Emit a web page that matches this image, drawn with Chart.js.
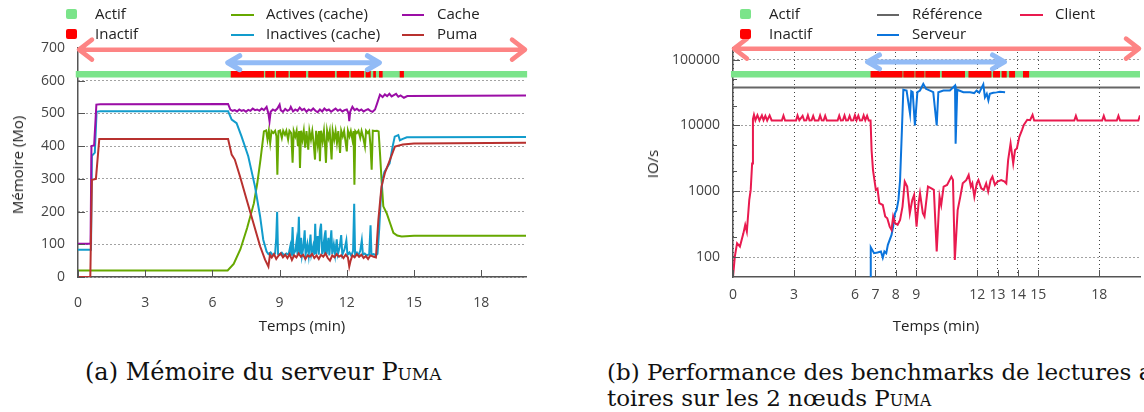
<!DOCTYPE html>
<html>
<head>
<meta charset="utf-8">
<script src="https://cdn.jsdelivr.net/npm/chart.js@4"></script>
<style>
body{margin:0;background:#fff;}
#fig{position:relative;width:1144px;height:412px;overflow:hidden;background:#fff;font-family:"Open Sans",sans-serif;}
canvas{position:absolute;top:0;}
.lg{position:absolute;font-size:15px;line-height:20px;color:#222;white-space:nowrap;}
.sq{position:absolute;width:10.5px;height:10px;border-radius:2px;}
.ln{position:absolute;height:2px;}
.ttl{position:absolute;font-size:15px;line-height:20px;color:#222;white-space:nowrap;transform:translate(-50%,-50%);}
.rot{transform:translate(-50%,-50%) rotate(-90deg);}
.cap{position:absolute;font-family:"DejaVu Serif",serif;font-size:23px;line-height:26px;color:#111;white-space:nowrap;}
.sc{font-variant:small-caps;}
</style>
</head>
<body>
<div id="fig">
  <canvas id="mem" width="560" height="340" style="left:0"></canvas>
  <canvas id="io" width="572" height="340" style="left:572px"></canvas>

  <!-- légende (a) -->
  <div class="sq" style="left:66px;top:9.3px;background:#7be48a"></div>
  <div class="lg" style="left:95px;top:3.4px">Actif</div>
  <div class="sq" style="left:66px;top:28.7px;background:#ff0000"></div>
  <div class="lg" style="left:95px;top:23.4px">Inactif</div>
  <div class="ln" style="left:231px;top:13.5px;width:23px;background:#66a800"></div>
  <div class="lg" style="left:266px;top:3.4px">Actives (cache)</div>
  <div class="ln" style="left:231px;top:33.6px;width:23px;background:#129ccc"></div>
  <div class="lg" style="left:266px;top:23.4px">Inactives (cache)</div>
  <div class="ln" style="left:402px;top:13.5px;width:22px;background:#9b0ea6"></div>
  <div class="lg" style="left:437px;top:3.4px">Cache</div>
  <div class="ln" style="left:402px;top:33.6px;width:22px;background:#b8312f"></div>
  <div class="lg" style="left:437px;top:23.4px">Puma</div>

  <!-- légende (b) -->
  <div class="sq" style="left:740px;top:9.3px;background:#7be48a"></div>
  <div class="lg" style="left:769px;top:3.4px">Actif</div>
  <div class="sq" style="left:740px;top:28.7px;background:#ff0000"></div>
  <div class="lg" style="left:769px;top:23.4px">Inactif</div>
  <div class="ln" style="left:877px;top:13.5px;width:22px;background:#666666"></div>
  <div class="lg" style="left:912px;top:3.4px">Référence</div>
  <div class="ln" style="left:877px;top:33.6px;width:22px;background:#0b74dc"></div>
  <div class="lg" style="left:912px;top:23.4px">Serveur</div>
  <div class="ln" style="left:1020px;top:13.5px;width:23px;background:#e91a4f"></div>
  <div class="lg" style="left:1055px;top:3.4px">Client</div>

  <!-- titres d'axes -->
  <div class="ttl rot" style="left:16.5px;top:165px">Mémoire (Mo)</div>
  <div class="ttl" style="left:302px;top:325px">Temps (min)</div>
  <div class="ttl rot" style="left:652px;top:164px">IO/s</div>
  <div class="ttl" style="left:936px;top:325px">Temps (min)</div>

  <!-- sous-titres -->
  <div class="cap" style="left:85px;top:359px;font-size:24px">(a) Mémoire du serveur <span class="sc">Puma</span></div>
  <div class="cap" style="left:607px;top:359px">(b) Performance des benchmarks de lectures aléa-<br>toires sur les 2 nœuds <span class="sc">Puma</span></div>
</div>

<script>
// ---- (a) mémoire du serveur Puma, en Mo, temps en minutes ----
const memTicksX = [0, 3, 6, 9, 12, 15, 18];

const memActives = [[0,20],[6.68,20],[6.95,40],[7.25,85],[7.55,150],[7.85,225],[8.0,285],[8.15,360],[8.3,445],
  [8.4,448],[8.46,420],[8.52,447],[8.58,410],[8.64,446],[8.72,440],[8.8,447],[8.86,430],[8.9,313],[8.95,446],
  [9.02,448],[9.1,425],[9.16,447],[9.24,435],[9.3,447],[9.38,420],[9.44,447],[9.52,440],[9.58,349],[9.63,446],
  [9.7,430],[9.76,447],[9.82,400],[9.87,446],[9.91,333],[9.96,447],[10.02,420],[10.08,447],[10.14,395],[10.2,446],
  [10.28,389],[10.33,447],[10.4,420],[10.46,446],[10.52,410],[10.58,359],[10.63,447],[10.7,405],[10.76,446],
  [10.8,354],[10.85,447],[10.92,415],[10.98,446],[11.03,400],[11.07,349],[11.12,447],[11.18,425],[11.24,446],
  [11.32,359],[11.37,447],[11.44,420],[11.5,446],[11.56,410],[11.62,446],[11.7,379],[11.75,447],[11.82,430],
  [11.88,446],[11.94,415],[12.0,384],[12.05,447],[12.12,430],[12.18,446],[12.25,420],[12.3,446],[12.34,282],
  [12.38,446],[12.45,440],[12.52,447],[12.6,425],[12.66,446],[12.72,430],[12.81,399],[12.86,447],[12.94,440],
  [13.0,446],[13.06,400],[13.11,328],[13.16,447],[13.25,446],[13.35,447],[13.42,445],[13.48,380],[13.55,298],
  [13.63,216],[13.78,195],[13.93,165],[14.08,135],[14.25,127],[14.45,124],[15,126],[20,126]];

const memInactives = [[0,83],[0.58,83],[0.62,370],[0.75,380],[0.83,505],[1.0,507],[6.7,507],[6.86,481],[7.08,470],
  [7.3,430],[7.6,369],[7.9,277],[8.13,185],[8.27,114],[8.42,78],[8.5,70],[8.6,75],[8.7,66],[8.8,72],[8.85,120],
  [8.89,199],[8.93,70],[9.0,68],[9.1,74],[9.2,66],[9.3,72],[9.4,68],[9.48,95],[9.53,65],[9.58,153],[9.62,70],
  [9.7,80],[9.76,110],[9.8,68],[9.86,184],[9.9,70],[9.96,120],[10.0,66],[10.06,90],[10.12,143],[10.16,68],
  [10.24,100],[10.3,66],[10.38,130],[10.42,70],[10.5,95],[10.55,68],[10.59,163],[10.63,70],[10.7,125],[10.75,68],
  [10.8,140],[10.85,163],[10.9,70],[10.98,110],[11.02,68],[11.05,143],[11.1,70],[11.18,120],[11.22,66],[11.31,143],
  [11.35,70],[11.42,100],[11.48,68],[11.55,115],[11.6,70],[11.68,90],[11.75,128],[11.8,68],[11.9,85],[11.98,112],
  [12.03,68],[12.12,75],[12.2,65],[12.28,80],[12.33,224],[12.37,68],[12.45,75],[12.52,66],[12.6,80],[12.67,112],
  [12.72,68],[12.8,72],[12.9,66],[13.0,70],[13.06,158],[13.1,68],[13.2,70],[13.3,66],[13.37,71],[13.45,150],
  [13.52,245],[13.6,300],[13.68,321],[13.8,335],[13.91,347],[14.05,400],[14.14,429],[14.3,434],[14.37,418],
  [14.5,422],[14.68,427],[20,428]];

const memCache = [[0,102],[0.56,102],[0.6,400],[0.72,402],[0.82,527],[1.0,528],[6.7,529],[6.8,512],[6.9,508],
  [7.0,510],[7.1,506],[7.2,512],[7.3,508],[7.4,510],[7.5,505],[7.6,511],[7.7,508],[7.8,515],[7.9,510],[8.0,512],
  [8.1,508],[8.2,515],[8.3,510],[8.42,520],[8.5,500],[8.55,476],[8.6,505],[8.7,512],[8.8,508],[8.9,515],[9.0,527],
  [9.05,510],[9.15,505],[9.25,514],[9.35,508],[9.45,512],[9.5,520],[9.6,506],[9.7,512],[9.8,508],[9.9,518],
  [10.0,510],[10.1,514],[10.2,505],[10.3,512],[10.4,508],[10.5,515],[10.6,508],[10.7,504],[10.8,512],[10.9,506],
  [11.0,515],[11.1,509],[11.2,512],[11.3,505],[11.4,510],[11.5,515],[11.6,508],[11.7,512],[11.8,506],[11.9,510],
  [12.0,512],[12.08,500],[12.11,476],[12.15,505],[12.25,520],[12.35,510],[12.45,514],[12.55,508],[12.65,512],
  [12.75,506],[12.85,510],[12.95,513],[13.05,508],[13.15,505],[13.26,512],[13.35,530],[13.48,557],[13.6,550],
  [13.7,558],[13.8,553],[13.9,560],[14.0,552],[14.1,556],[14.2,560],[14.3,551],[14.4,555],[14.55,548],[14.7,553],
  [20,555]];

const memPuma = [[0,0],[0.55,0],[0.62,297],[0.8,300],[0.95,422],[6.7,422],[6.86,374],[7.0,359],[7.23,308],
  [7.53,236],[7.83,165],[8.13,94],[8.35,53],[8.5,32],[8.57,68],[8.65,60],[8.75,70],[8.85,55],[8.95,65],[9.05,72],
  [9.15,60],[9.25,68],[9.35,58],[9.45,70],[9.55,52],[9.65,66],[9.75,60],[9.85,72],[9.95,62],[10.05,68],[10.15,55],
  [10.25,66],[10.35,62],[10.45,70],[10.55,58],[10.65,66],[10.75,55],[10.85,68],[10.95,62],[11.05,72],[11.15,58],
  [11.25,50],[11.35,66],[11.45,60],[11.55,70],[11.65,62],[11.75,66],[11.85,58],[11.95,68],[12.05,60],[12.11,32],
  [12.17,50],[12.25,66],[12.35,60],[12.45,70],[12.55,62],[12.65,68],[12.75,58],[12.85,64],[12.95,55],[13.05,66],
  [13.2,62],[13.3,60],[13.41,175],[13.55,277],[13.7,318],[13.93,359],[14.15,399],[14.5,405],[15,408],[20,410]];

// états du nœud (niveau en Mo) et flèches de période
const memStateLevel = 620;
const memActif = [[-0.1, 20.05]];
const memInactif = [[6.82,8.3],[8.36,8.78],[8.84,9.4],[9.46,10.18],[10.28,11.47],[11.55,12.11],[12.17,12.77],
  [12.84,13.07],[13.18,13.3],[13.44,13.6],[14.36,14.55]];
const memArrowRun = [0, 20, 695];
const memArrowFault = [6.64, 13.5, 655];

// ---- (b) IO/s, échelle log ----
const ioTicksX = [0, 3, 6, 7, 8, 9, 12, 13, 14, 15, 18];
const ioTicksY = [100, 1000, 10000, 100000];
const ioMinorY = [200, 500, 2000, 5000, 20000, 50000];

const ioReference = [[0,37800],[20,37800]];

const ioServeur = [[6.75,50],[6.77,141],[6.93,115],[7.1,118],[7.27,122],[7.36,98],[7.44,122],[7.53,115],
  [7.61,154],[7.7,183],[7.79,218],[7.87,291],[7.96,464],[8.04,520],[8.13,740],[8.21,1480],[8.3,8500],[8.37,34800],
  [8.53,33900],[8.7,15000],[8.76,33000],[8.83,32000],[8.94,10000],[9.06,32000],[9.19,33900],[9.35,42800],
  [9.48,36000],[9.68,33900],[9.84,32000],[10.01,10000],[10.09,32000],[10.34,33900],[10.66,33900],[10.91,40300],
  [10.94,5300],[11.02,34800],[11.32,32000],[11.65,32000],[11.85,31000],[11.97,33900],[12.1,31500],[12.3,42000],
  [12.38,26800],[12.47,30200],[12.55,24000],[12.62,30200],[12.79,31300],[12.95,31800],[13.12,32500],[13.37,32000]];

const ioClient = [[0,50],[0.09,102],[0.2,163],[0.34,145],[0.51,230],[0.6,309],[0.68,245],[0.8,740],[0.87,1050],
  [0.94,2650],[0.98,12500],[1.03,14500],[1.1,12000],[1.2,14300],[1.3,11900],[1.42,14200],[1.5,12000],[1.59,14000],
  [1.68,11900],[1.8,14200],[1.9,11900],[2.4,11900],[2.48,14100],[2.56,11900],[3.1,11900],[3.17,14200],[3.26,12000],
  [3.42,14000],[3.5,11900],[3.6,12000],[3.68,14300],[3.76,11900],[3.86,12000],[3.94,14000],[4.02,11900],
  [4.2,11900],[4.28,14200],[4.36,12000],[4.45,11900],[4.53,14000],[4.61,11900],[5.14,11900],[5.22,14100],
  [5.3,11900],[5.4,12000],[5.48,14200],[5.56,11900],[5.65,12000],[5.73,14000],[5.81,11900],[5.91,12000],
  [5.99,14300],[6.07,12000],[6.16,14100],[6.24,11900],[6.34,12000],[6.42,14200],[6.5,12000],[6.59,14000],
  [6.67,11900],[6.76,11900],[6.81,4200],[6.88,2100],[7.02,1050],[7.1,1100],[7.19,660],[7.36,620],[7.48,414],
  [7.58,390],[7.7,291],[7.79,260],[7.87,414],[7.96,328],[8.09,310],[8.21,368],[8.33,586],[8.44,1400],[8.56,1180],
  [8.69,464],[8.81,740],[8.9,880],[9.02,291],[9.12,660],[9.19,933],[9.33,464],[9.41,414],[9.58,1180],[9.75,1110],
  [9.87,1050],[10.01,122],[10.15,830],[10.23,620],[10.35,1180],[10.52,1250],[10.73,1670],[10.81,1480],[10.9,91],
  [11.04,520],[11.17,830],[11.29,1320],[11.46,1480],[11.58,1770],[11.69,1180],[11.76,1320],[11.86,830],
  [11.98,1320],[12.06,1480],[12.2,1110],[12.32,1050],[12.44,1320],[12.54,990],[12.66,1480],[12.75,1670],
  [12.87,1250],[13.0,1400],[13.18,1480],[13.35,1400],[13.43,1320],[13.52,2980],[13.64,5330],[13.77,2650],
  [13.86,4230],[13.95,4480],[14.07,6700],[14.2,8500],[14.29,10200],[14.46,12200],[14.6,12000],[14.72,14500],
  [14.8,11900],[16.77,11900],[16.85,14000],[16.93,11900],[18.14,11900],[18.22,14000],[18.3,11900],[18.86,11900],
  [18.94,14000],[19.02,11900],[19.92,11900],[20,14200]];

const ioStateLevel = 60000;
const ioActif = [[-0.1, 20]];
const ioInactif = [[6.76,8.33],[8.37,8.92],[8.96,9.41],[9.45,10.17],[10.26,11.4],[11.57,12.7],[12.78,13.12],
  [13.2,13.45],[13.57,13.86],[14.25,14.55]];
const ioArrowRun = [0, 20, 146600];
const ioArrowFault = [6.56, 13.39, 92300];

// ---- helpers ----
const pts = arr => arr.map(([x, y]) => ({x, y}));
function segs(list, level) {
  const out = [];
  list.forEach(([a, b]) => out.push({x: a, y: level}, {x: b, y: level}, {x: b, y: null}));
  return out;
}
function serie(label, arr, color) {
  return {label, data: pts(arr), borderColor: color, borderWidth: 2, pointRadius: 0, tension: 0, fill: false};
}
function etat(label, data, color) {
  return {label, data, borderColor: color, borderWidth: 6.5, borderCapStyle: 'butt', pointRadius: 0,
          spanGaps: false, fill: false, clip: 6};
}
function arrow(a, color, width, head, half) {
  return {from: a[0], to: a[1], at: a[2], color, width, head, half};
}

const tickFont = {family: 'Open Sans', size: 14};

// marques de graduation vers l'intérieur + flèches
const decor = {
  id: 'decor',
  afterDatasetsDraw(chart, args, o) {
    const {ctx, chartArea: a, scales: {x, y}} = chart;
    ctx.save();
    ctx.strokeStyle = '#555';
    ctx.lineWidth = 1;
    ctx.beginPath();
    x.ticks.forEach(t => {
      const p = Math.round(x.getPixelForValue(t.value)) + 0.5;
      ctx.moveTo(p, a.bottom); ctx.lineTo(p, a.bottom - 7);
    });
    y.ticks.forEach(t => {
      const p = Math.round(y.getPixelForValue(t.value)) + 0.5;
      ctx.moveTo(a.left, p); ctx.lineTo(a.left + 7, p);
    });
    (o.minorY || []).forEach(v => {
      const p = Math.round(y.getPixelForValue(v)) + 0.5;
      ctx.moveTo(a.left, p); ctx.lineTo(a.left + 4, p);
    });
    ctx.stroke();
    (o.arrows || []).forEach(ar => {
      const x1 = x.getPixelForValue(ar.from), x2 = x.getPixelForValue(ar.to), py = y.getPixelForValue(ar.at);
      ctx.strokeStyle = ar.color;
      ctx.lineWidth = ar.width;
      ctx.lineCap = 'round';
      ctx.lineJoin = 'round';
      ctx.beginPath();
      ctx.moveTo(x1 + 2, py); ctx.lineTo(x2 - 2, py);
      ctx.moveTo(x1 + ar.head, py - ar.half); ctx.lineTo(x1 + 1, py); ctx.lineTo(x1 + ar.head, py + ar.half);
      ctx.moveTo(x2 - ar.head, py - ar.half); ctx.lineTo(x2 - 1, py); ctx.lineTo(x2 - ar.head, py + ar.half);
      ctx.stroke();
    });
    ctx.restore();
  }
};

new Chart(document.getElementById('mem'), {
  type: 'line',
  data: {
    datasets: [
      serie('Puma', memPuma, '#b8312f'),
      serie('Cache', memCache, '#9b0ea6'),
      serie('Inactives (cache)', memInactives, '#129ccc'),
      serie('Actives (cache)', memActives, '#66a800'),
      etat('Inactif', segs(memInactif, memStateLevel), '#ff0000'),
      etat('Actif', segs(memActif, memStateLevel), '#7be48a')
    ]
  },
  options: {
    responsive: false,
    animation: false,
    devicePixelRatio: 1,
    layout: {padding: {left: 0, right: 34, top: 48, bottom: 0}},
    plugins: {
      legend: {display: false},
      tooltip: {enabled: false},
      decor: {arrows: [arrow(memArrowRun, '#fd8484', 4.5, 14, 10), arrow(memArrowFault, '#92bbf6', 5, 13, 7)]}
    },
    scales: {
      x: {
        type: 'linear', min: 0, max: 20,
        afterBuildTicks: s => { s.ticks = memTicksX.map(v => ({value: v})); },
        afterFit: s => { s.height = 63; },
        grid: {display: false},
        border: {color: '#555', width: 1.5},
        ticks: {padding: 10, color: '#444', font: tickFont, maxRotation: 0, autoSkip: false, callback: v => String(v)}
      },
      y: {
        type: 'linear', min: 0, max: 700,
        afterFit: s => { s.width = 78; },
        grid: {drawTicks: false, color: '#444', lineWidth: 1},
        border: {color: '#555', width: 1.5, dash: [1, 3]},
        ticks: {stepSize: 100, padding: 13, color: '#444', font: tickFont}
      }
    }
  },
  plugins: [decor]
});

new Chart(document.getElementById('io'), {
  type: 'line',
  data: {
    datasets: [
      serie('Client', ioClient, '#e91a4f'),
      serie('Serveur', ioServeur, '#0b74dc'),
      serie('Référence', ioReference, '#666666'),
      etat('Inactif', segs(ioInactif, ioStateLevel), '#ff0000'),
      etat('Actif', segs(ioActif, ioStateLevel), '#7be48a')
    ]
  },
  options: {
    responsive: false,
    animation: false,
    devicePixelRatio: 1,
    layout: {padding: {left: 0, right: 4, top: 48, bottom: 0}},
    plugins: {
      legend: {display: false},
      tooltip: {enabled: false},
      decor: {
        minorY: ioMinorY,
        arrows: [arrow(ioArrowRun, '#fd8484', 4.5, 14, 10), arrow(ioArrowFault, '#92bbf6', 5, 13, 7)]
      }
    },
    scales: {
      x: {
        type: 'linear', min: 0, max: 20,
        afterBuildTicks: s => { s.ticks = ioTicksX.map(v => ({value: v})); },
        afterFit: s => { s.height = 63; },
        grid: {drawTicks: false, color: '#444', lineWidth: 1},
        border: {color: '#555', width: 1.5, dash: [1, 3]},
        ticks: {padding: 10, color: '#444', font: tickFont, maxRotation: 0, autoSkip: false, callback: v => String(v)}
      },
      y: {
        type: 'logarithmic', min: 50, max: 150000,
        afterBuildTicks: s => { s.ticks = ioTicksY.map(v => ({value: v})); },
        afterFit: s => { s.width = 161; },
        grid: {drawTicks: false, color: '#444', lineWidth: 1},
        border: {color: '#555', width: 1.5, dash: [1, 3]},
        ticks: {padding: 13, color: '#444', font: tickFont, callback: v => String(v)}
      }
    }
  },
  plugins: [decor]
});
</script>
</body>
</html>
